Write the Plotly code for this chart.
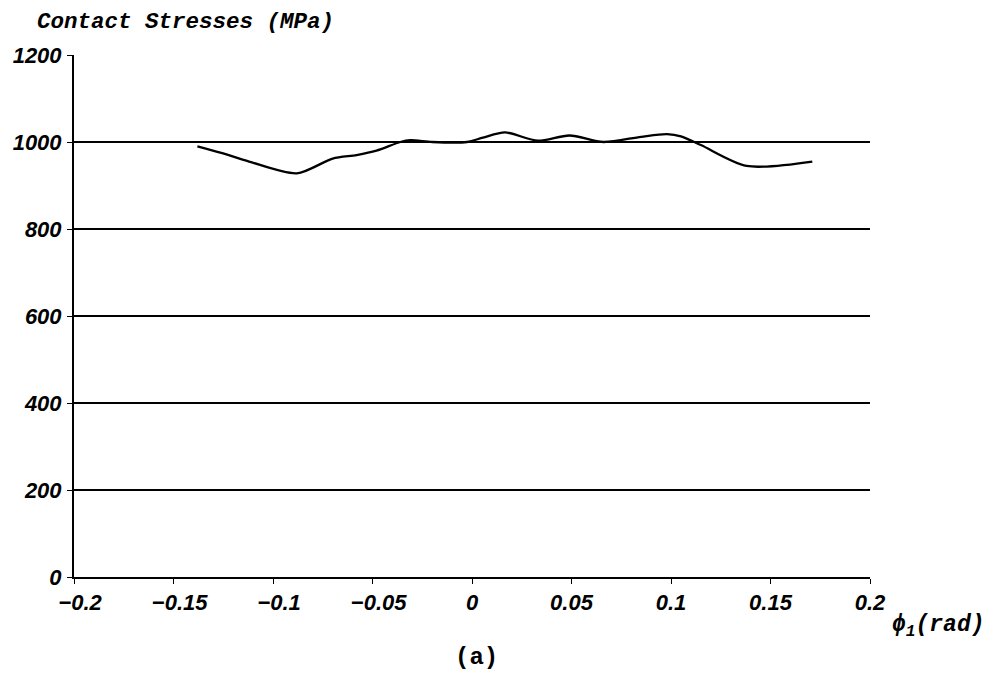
import plotly.graph_objects as go

phi = [-0.138, -0.126, -0.112, -0.088, -0.070, -0.058, -0.048, -0.036, -0.031, -0.020,
       -0.0025, 0.0055, 0.0166, 0.033, 0.049, 0.066, 0.085, 0.098, 0.105, 0.115,
       0.138, 0.171]
stress = [990, 975, 955, 928, 962, 970, 980, 1000, 1004, 1000,
          1000, 1010, 1022, 1003, 1015, 1000, 1012, 1018, 1013, 993,
          945, 955]

x_ticks = [-0.2, -0.15, -0.1, -0.05, 0, 0.05, 0.1, 0.15, 0.2]
x_labels = ["\u22120.2", "\u22120.15", "\u22120.1", "\u22120.05", "0", "0.05", "0.1", "0.15", "0.2"]
y_ticks = [0, 200, 400, 600, 800, 1000, 1200]

# page body has an 8px margin; plot area in reference spans x 74..870, y 55..577
L, T, PW, PH = 66, 47, 796, 522
W, H = 1000, 676


def px(xp):
    return (xp - 74) / PW


def py(yp):
    return (577 - yp) / PH


def xlab(t):
    # negative labels in the reference sit a little right of their tick
    pad = "\u2007" if t.startswith("\u2212") else ""
    return "%s<b><i>%s</i></b>" % (pad, t)


fig = go.Figure()
fig.add_trace(go.Scatter(x=phi, y=stress, mode="lines",
                         line=dict(color="black", width=2.3, shape="spline", smoothing=0.8),
                         showlegend=False, hoverinfo="skip"))

tick_font = dict(family="Liberation Sans", size=22, color="black")

fig.update_layout(
    width=W, height=H,
    paper_bgcolor="white", plot_bgcolor="white",
    margin=dict(l=L, r=W - L - PW, t=T, b=H - T - PH, autoexpand=False),
    xaxis=dict(range=[-0.2, 0.2], tickvals=x_ticks, automargin=False,
               ticktext=[xlab(t) for t in x_labels],
               showgrid=False, zeroline=False, showline=True, linecolor="black", linewidth=2,
               ticks="outside", ticklen=5, tickcolor="black", tickfont=tick_font),
    yaxis=dict(range=[0, 1200], tickvals=y_ticks, automargin=False,
               ticktext=["<b><i>%d</i></b>" % v for v in y_ticks],
               showgrid=True, gridcolor="black", gridwidth=1.6, zeroline=False,
               showline=True, linecolor="black", linewidth=2,
               ticks="outside", ticklen=5, tickcolor="black", tickfont=tick_font,
               ticklabelstandoff=1),
    annotations=[
        dict(text="<b><i>Contact Stresses (MPa)</i></b>", x=px(35), y=py(22),
             xref="paper", yref="paper", showarrow=False,
             font=dict(family="Liberation Mono", size=22.5, color="black"),
             xanchor="left", yanchor="middle"),
        dict(text="<b>(a)</b>", x=px(476), y=py(657), xref="paper", yref="paper",
             showarrow=False, font=dict(family="Liberation Mono", size=24, color="black"),
             xanchor="center", yanchor="middle"),
        dict(text="<b><i>\u03d5</i></b><sub><b><i>1</i></b></sub><b><i>(rad)</i></b>",
             x=px(890), y=py(626), xref="paper", yref="paper", showarrow=False,
             font=dict(family="Liberation Mono", size=23, color="black"),
             xanchor="left", yanchor="middle"),
    ],
)

fig.write_html("out.html")
